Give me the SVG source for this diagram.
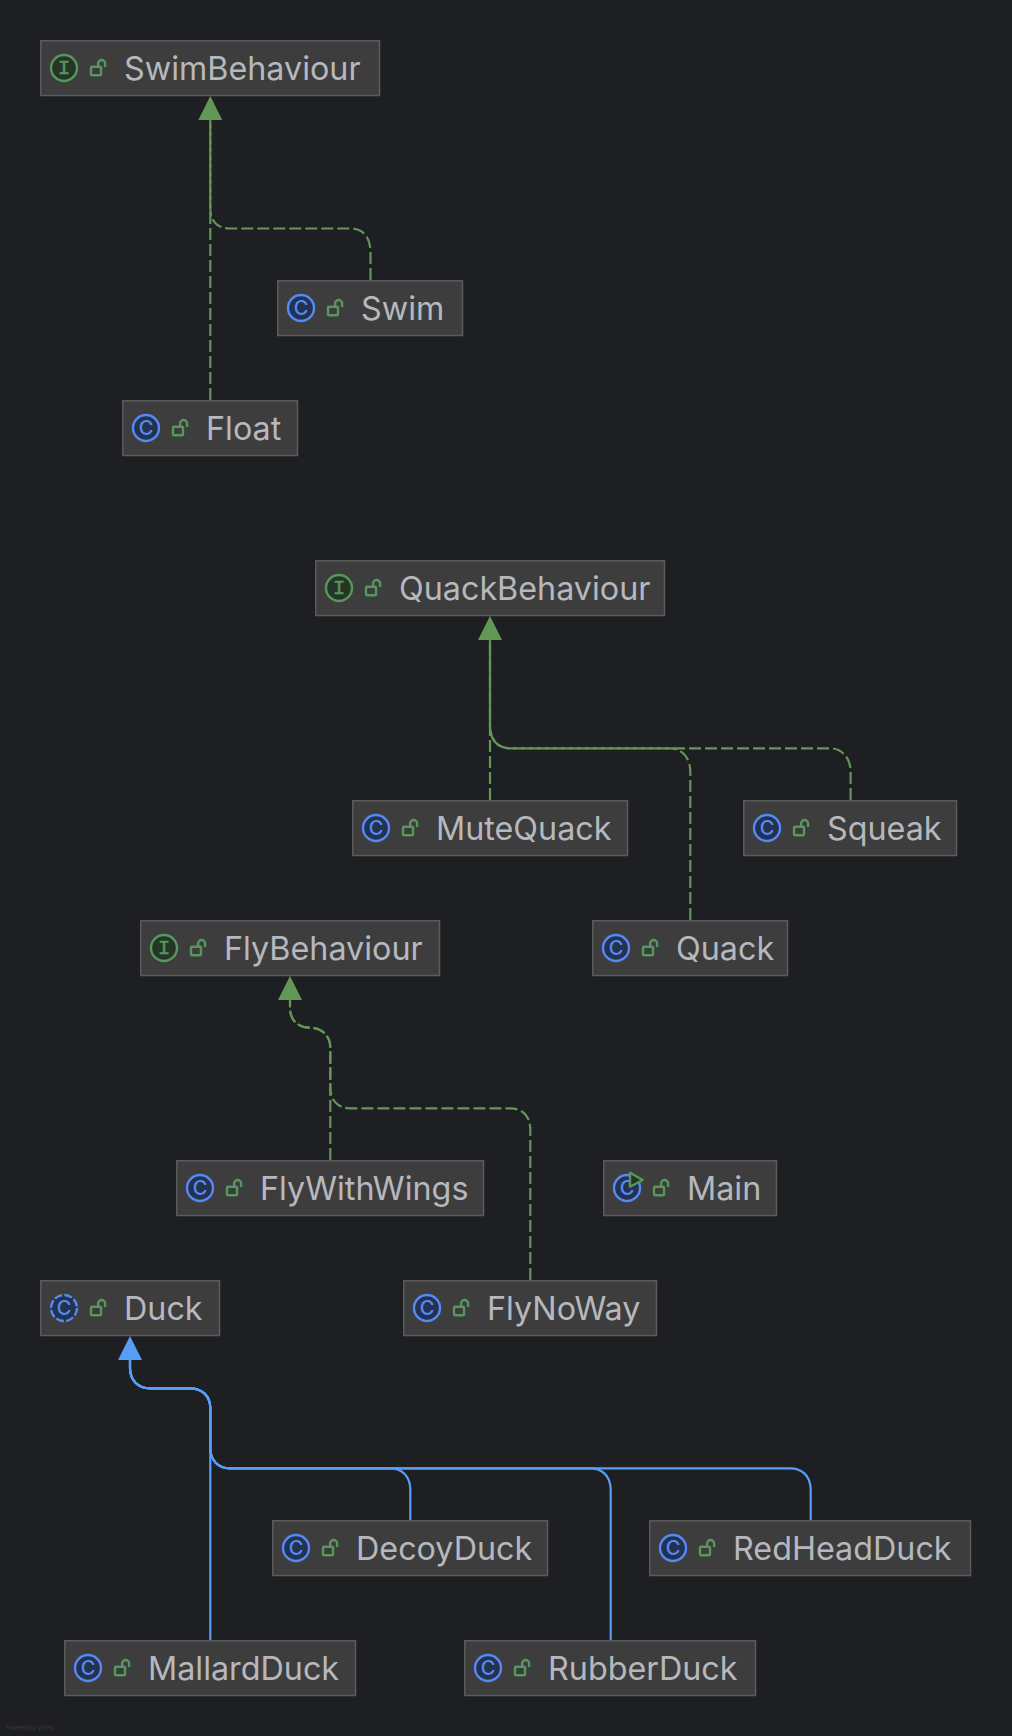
<svg xmlns="http://www.w3.org/2000/svg" width="1012" height="1736" viewBox="0 0 1012 1736">
<style>
.box{fill:#3d3d3d;stroke:#5c5c5c;stroke-width:1.5}
.name{font-family:Inter,"Noto Sans",sans-serif;font-size:32.3px;fill:#b6b8be}
.ic{fill:#25324d;stroke:#548af7;stroke-width:2.4}
.ii{fill:#253627;stroke:#57965c;stroke-width:2.4}
.cl{font-family:Inter,"Noto Sans",sans-serif;font-size:20px;font-weight:500;fill:#548af7;text-anchor:middle}
.il{font-family:"Liberation Mono",monospace;font-size:21px;fill:#57965c;stroke:#57965c;stroke-width:.4;text-anchor:middle}
.lk{fill:none;stroke:#57965c;stroke-width:2.4}
.tri{fill:#253627;stroke:#57965c;stroke-width:2.4;stroke-linejoin:round}
.g{fill:none;stroke:#629755;stroke-width:2.2;stroke-dasharray:12 4}
.b{fill:none;stroke:#589df6;stroke-width:2.2}
.pow{font-family:Inter,"Noto Sans",sans-serif;font-size:5.6px;fill:#38393c}
</style>
<defs>
<marker id="ag" viewBox="0 -12 24 24" refX="0" refY="0" markerWidth="24" markerHeight="24" markerUnits="userSpaceOnUse" orient="auto"><path d="M0-12L24 0L0 12Z" fill="#629755"/></marker>
<marker id="ab" viewBox="0 -12 24 24" refX="0" refY="0" markerWidth="24" markerHeight="24" markerUnits="userSpaceOnUse" orient="auto"><path d="M0-12L24 0L0 12Z" fill="#589df6"/></marker>
<g id="lock"><rect class="lk" x="51" y="26.8" width="10" height="8.5" rx="1"/><path class="lk" d="M58.1 26.5V23.5a3.5 3.5 0 0 1 7 0V27"/></g>
</defs>
<rect width="1012" height="1736" fill="#1e1f22"/>
<g id="connectors">
<path class="g" d="M210.3 400V120"/>
<path class="g" marker-end="url(#ag)" d="M370.5 280V252C370.5 236 362 228.5 350 228.5H230C218 228.5 210.3 222 210.3 208V120"/>
<path class="g" d="M490 800V640"/>
<path class="g" d="M690.3 920V772C690.3 758 682 748.3 670 748.3H510C498 748.3 490 740 490 726V640"/>
<path class="g" marker-end="url(#ag)" d="M850.6 800V772C850.6 758 842 748.3 830 748.3H510C498 748.3 490 740 490 726V640"/>
<path class="g" d="M330.3 1160V1048C330.3 1036 322 1027.7 310 1027.7C298 1027.7 290 1020 290 1008V1000"/>
<path class="g" marker-end="url(#ag)" d="M530.3 1280V1130C530.3 1116 522 1108.3 510 1108.3H350C338 1108.3 330.3 1100 330.3 1088V1048C330.3 1036 322 1027.7 310 1027.7C298 1027.7 290 1020 290 1008V1000"/>
<path class="b" d="M210.3 1640V1408C210.3 1396 202 1388.3 190 1388.3H150C138 1388.3 130 1380 130 1368V1360"/>
<path class="b" d="M410.3 1520V1490C410.3 1476 402 1468.3 390 1468.3H230C218 1468.3 210.3 1460 210.3 1448V1408C210.3 1396 202 1388.3 190 1388.3H150C138 1388.3 130 1380 130 1368V1360"/>
<path class="b" d="M610.7 1640V1490C610.7 1476 602 1468.3 590 1468.3H230C218 1468.3 210.3 1460 210.3 1448V1408C210.3 1396 202 1388.3 190 1388.3H150C138 1388.3 130 1380 130 1368V1360"/>
<path class="b" marker-end="url(#ab)" d="M810.7 1520V1490C810.7 1476 802 1468.3 790 1468.3H230C218 1468.3 210.3 1460 210.3 1448V1408C210.3 1396 202 1388.3 190 1388.3H150C138 1388.3 130 1380 130 1368V1360"/>
</g>
<g id="SwimBehaviour" transform="translate(40 40)"><rect class="box" x=".8" y=".8" width="338.7" height="54.7"/><circle class="ii" cx="24" cy="28" r="13"/><text class="il" x="24" y="34">I</text><use href="#lock"/><text class="name" x="84" y="39.5">SwimBehaviour</text></g>
<g id="Swim" transform="translate(277 280)"><rect class="box" x=".8" y=".8" width="184.7" height="54.7"/><circle class="ic" cx="24" cy="28" r="13"/><text class="cl" x="24" y="35">C</text><use href="#lock"/><text class="name" x="84" y="39.5">Swim</text></g>
<g id="Float" transform="translate(122 400)"><rect class="box" x=".8" y=".8" width="174.7" height="54.7"/><circle class="ic" cx="24" cy="28" r="13"/><text class="cl" x="24" y="35">C</text><use href="#lock"/><text class="name" x="84" y="39.5">Float</text></g>
<g id="QuackBehaviour" transform="translate(315 560)"><rect class="box" x=".8" y=".8" width="348.7" height="54.7"/><circle class="ii" cx="24" cy="28" r="13"/><text class="il" x="24" y="34">I</text><use href="#lock"/><text class="name" x="84" y="39.5">QuackBehaviour</text></g>
<g id="MuteQuack" transform="translate(352 800)"><rect class="box" x=".8" y=".8" width="274.7" height="54.7"/><circle class="ic" cx="24" cy="28" r="13"/><text class="cl" x="24" y="35">C</text><use href="#lock"/><text class="name" x="84" y="39.5">MuteQuack</text></g>
<g id="Squeak" transform="translate(743 800)"><rect class="box" x=".8" y=".8" width="212.7" height="54.7"/><circle class="ic" cx="24" cy="28" r="13"/><text class="cl" x="24" y="35">C</text><use href="#lock"/><text class="name" x="84" y="39.5">Squeak</text></g>
<g id="Quack" transform="translate(592 920)"><rect class="box" x=".8" y=".8" width="194.7" height="54.7"/><circle class="ic" cx="24" cy="28" r="13"/><text class="cl" x="24" y="35">C</text><use href="#lock"/><text class="name" x="84" y="39.5">Quack</text></g>
<g id="FlyBehaviour" transform="translate(140 920)"><rect class="box" x=".8" y=".8" width="298.7" height="54.7"/><circle class="ii" cx="24" cy="28" r="13"/><text class="il" x="24" y="34">I</text><use href="#lock"/><text class="name" x="84" y="39.5">FlyBehaviour</text></g>
<g id="FlyWithWings" transform="translate(176 1160)"><rect class="box" x=".8" y=".8" width="306.7" height="54.7"/><circle class="ic" cx="24" cy="28" r="13"/><text class="cl" x="24" y="35">C</text><use href="#lock"/><text class="name" x="84" y="39.5">FlyWithWings</text></g>
<g id="Main" transform="translate(603 1160)"><rect class="box" x=".8" y=".8" width="172.7" height="54.7"/><circle class="ic" cx="24" cy="28" r="13"/><text class="cl" x="24" y="35">C</text><path class="tri" d="M27 12.7L39.7 20L27 26.7Z"/><use href="#lock"/><text class="name" x="84" y="39.5">Main</text></g>
<g id="FlyNoWay" transform="translate(403 1280)"><rect class="box" x=".8" y=".8" width="252.7" height="54.7"/><circle class="ic" cx="24" cy="28" r="13"/><text class="cl" x="24" y="35">C</text><use href="#lock"/><text class="name" x="84" y="39.5">FlyNoWay</text></g>
<g id="Duck" transform="translate(40 1280)"><rect class="box" x=".8" y=".8" width="178.7" height="54.7"/><circle class="ic" cx="24" cy="28" r="13" stroke-dasharray="8 2.21"/><text class="cl" x="24" y="35">C</text><use href="#lock"/><text class="name" x="84" y="39.5">Duck</text></g>
<g id="DecoyDuck" transform="translate(272 1520)"><rect class="box" x=".8" y=".8" width="274.7" height="54.7"/><circle class="ic" cx="24" cy="28" r="13"/><text class="cl" x="24" y="35">C</text><use href="#lock"/><text class="name" x="84" y="39.5">DecoyDuck</text></g>
<g id="RedHeadDuck" transform="translate(649 1520)"><rect class="box" x=".8" y=".8" width="320.7" height="54.7"/><circle class="ic" cx="24" cy="28" r="13"/><text class="cl" x="24" y="35">C</text><use href="#lock"/><text class="name" x="84" y="39.5">RedHeadDuck</text></g>
<g id="MallardDuck" transform="translate(64 1640)"><rect class="box" x=".8" y=".8" width="290.7" height="54.7"/><circle class="ic" cx="24" cy="28" r="13"/><text class="cl" x="24" y="35">C</text><use href="#lock"/><text class="name" x="84" y="39.5">MallardDuck</text></g>
<g id="RubberDuck" transform="translate(464 1640)"><rect class="box" x=".8" y=".8" width="290.7" height="54.7"/><circle class="ic" cx="24" cy="28" r="13"/><text class="cl" x="24" y="35">C</text><use href="#lock"/><text class="name" x="84" y="39.5">RubberDuck</text></g>
<text class="pow" x="5" y="1730">Powered by yFiles</text>
</svg>
